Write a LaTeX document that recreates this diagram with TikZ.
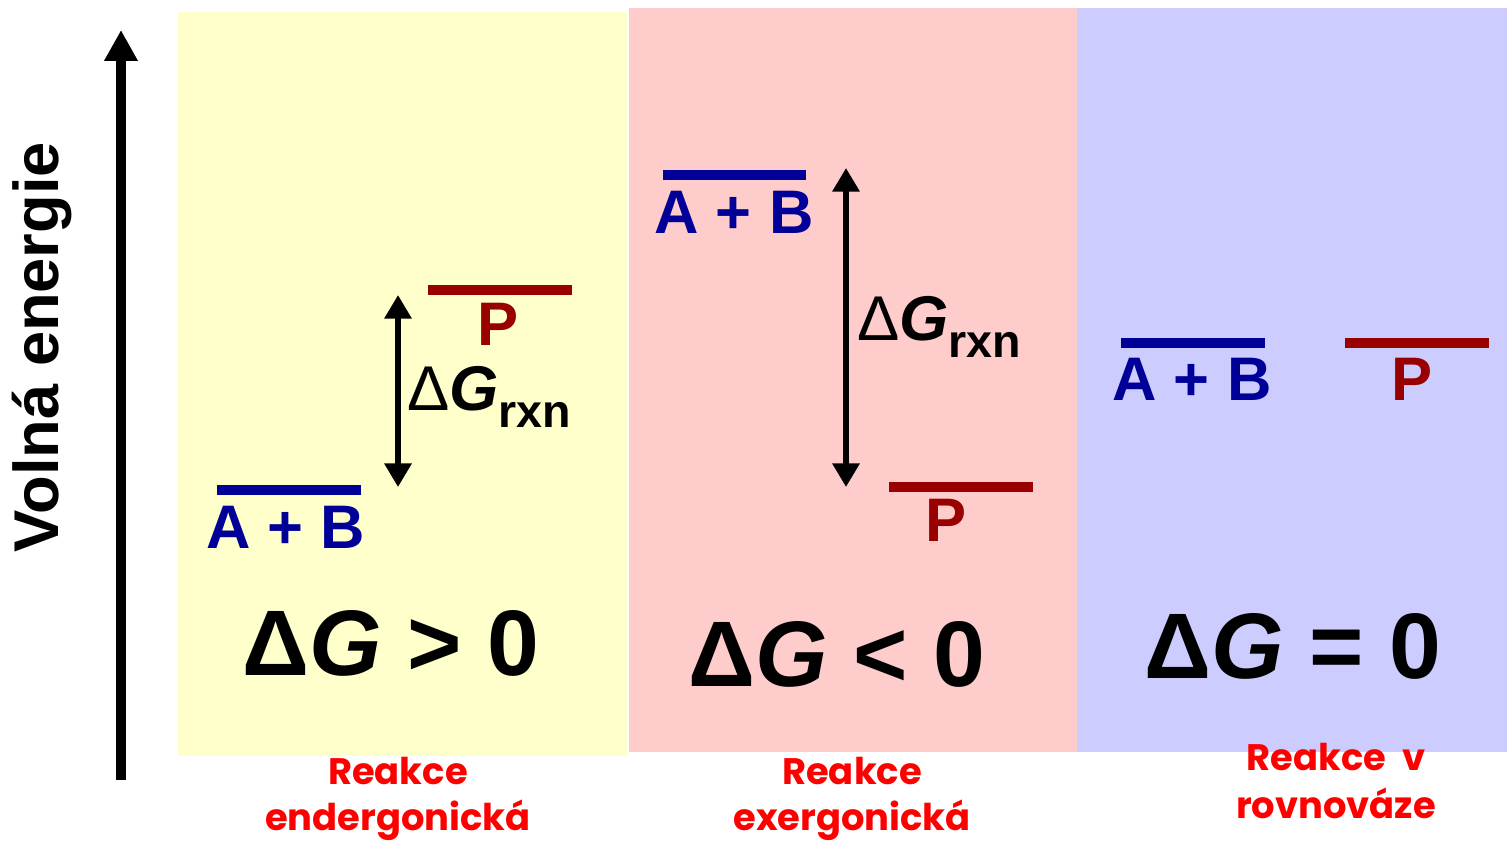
\documentclass[tikz,border=0pt]{standalone}
\usepackage{fontspec}
\setmainfont{Liberation Sans}
\newfontfamily\handfont{Poppins}
\usetikzlibrary{arrows.meta,positioning,calc}
\definecolor{EndoYellow}{RGB}{255,255,204}
\definecolor{ExoPink}{RGB}{255,204,204}
\definecolor{EqBlue}{RGB}{204,204,255}
\definecolor{ReactBlue}{RGB}{0,0,153}
\definecolor{ProdRed}{RGB}{153,0,0}
\definecolor{NoteRed}{RGB}{255,0,0}

\tikzset{
  levelline/.style={line width=5.7pt},
  species/.style={inner sep=0pt,anchor=base,font=\fontsize{35}{35}\selectfont\bfseries},
  dgarrow/.style={line width=3.2pt,{Triangle[width=15pt,length=13.5pt]}-{Triangle[width=15pt,length=13.5pt]}},
  dglabel/.style={inner sep=0pt,anchor=base west},
  bigsign/.style={inner sep=0pt,anchor=base,font=\fontsize{53}{53}\selectfont\bfseries},
  note/.style={inner sep=0pt,anchor=base,text=NoteRed,font=\handfont\fontsize{21}{21}\selectfont\bfseries}
}
\newcommand{\dGrxn}{{\fontsize{36}{36}\selectfont Δ}{\fontsize{36}{36}\selectfont\bfseries\itshape G}\raisebox{-10pt}{\fontsize{26.5}{26.5}\selectfont\bfseries rxn}}

\begin{document}
\begin{tikzpicture}[x=0.02cm,y=-0.02cm]
  \useasboundingbox (0,0) rectangle (1507,843);
  % panels
  \foreach \xa/\ya/\xb/\yb/\col in {178/12/627/756/EndoYellow,629/8/1077/752/ExoPink,1077/8/1507/752/EqBlue}
    \fill[\col] (\xa,\ya) rectangle (\xb,\yb);

  % energy axis
  \coordinate (axisLow) at (121,780);
  \coordinate (axisHigh) at (121,30);
  \draw[line width=5.6pt,-{Triangle[width=18pt,length=17.6pt]}] (axisLow) -- (axisHigh);
  \node[inner sep=0pt,rotate=90,font=\fontsize{36}{36}\selectfont\bfseries] (axisLabel) at (42,347) {Volná energie};

  % endergonic
  \draw[levelline,ReactBlue] (217,490) -- (361,490);
  \node[species,text=ReactBlue] (endoAB) at (286,548) {A + B};
  \draw[levelline,ProdRed] (428,290) -- (572,290);
  \node[species,text=ProdRed] (endoP) at (498,345) {P};
  \coordinate (endoLow) at (398,487);
  \coordinate (endoHigh) at (398,295);
  \draw[dgarrow] (endoLow) -- (endoHigh);
  \node[dglabel] (endoDG) at (407,410) {\dGrxn};
  \node[bigsign] (endoSign) at (391,675) {Δ\textit{G} > 0};

  % exergonic
  \draw[levelline,ReactBlue] (663,175) -- (806,175);
  \node[species,text=ReactBlue] (exoAB) at (734,233) {A + B};
  \draw[levelline,ProdRed] (889,487) -- (1033,487);
  \node[species,text=ProdRed] (exoP) at (946,541) {P};
  \coordinate (exoLow) at (846,487);
  \coordinate (exoHigh) at (846,168);
  \draw[dgarrow] (exoLow) -- (exoHigh);
  \node[dglabel] (exoDG) at (857,340) {\dGrxn};
  \node[bigsign] (exoSign) at (837,686) {Δ\textit{G} < 0};

  % equilibrium
  \draw[levelline,ReactBlue] (1121,343) -- (1265,343);
  \node[species,text=ReactBlue] (eqAB) at (1192,400) {A + B};
  \draw[levelline,ProdRed] (1345,343) -- (1489,343);
  \node[species,text=ProdRed] (eqP) at (1412,400) {P};
  \node[bigsign] (eqSign) at (1293,678) {Δ\textit{G} = 0};

  % captions
  \foreach \x/\ya/\yb/\first/\second/\name in {398/784/830/Reakce/endergonická/endo,852/784/830/Reakce/exergonická/exo,1336/770/818/Reakce\ \ v/rovnováze/eq} {
    \node[note] (\name Cap1) at (\x,\ya) {\first};
    \node[note] (\name Cap2) at (\x,\yb) {\second};
  }
\end{tikzpicture}
\end{document}
